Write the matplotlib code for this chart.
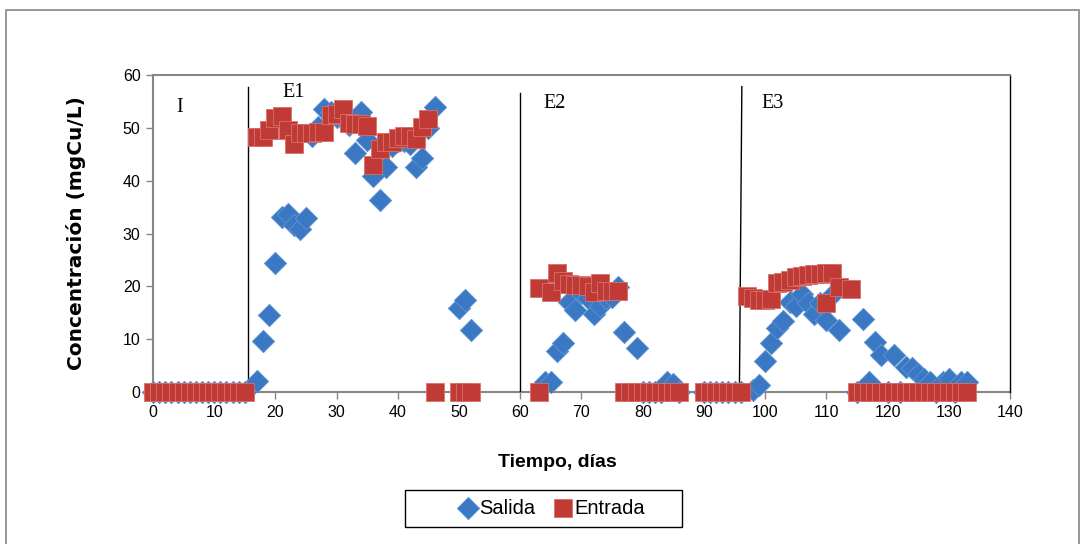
import matplotlib
matplotlib.use("Agg")
import matplotlib.pyplot as plt
from matplotlib.patches import Rectangle

plt.rcParams['font.family'] = ['Liberation Sans', 'DejaVu Sans']

# Salida (effluent) concentration, mgCu/L
salida_dias = list(range(0, 16)) + [
    17, 18, 19, 20, 21, 22, 23, 24, 25, 26, 27, 28, 29, 30, 31, 32, 33, 34,
    35, 36, 37, 38, 39, 40, 41, 42, 43, 44, 45, 46, 50, 51, 52,
    64, 65, 66, 67, 68, 69, 70, 71, 72, 73, 74, 75, 76, 77, 79, 80, 81, 82,
    83, 84, 85, 86, 90, 91, 92, 93, 94, 95, 96,
    98, 99, 100, 101, 102, 103, 104, 105, 106, 107, 108, 109, 110, 111, 112,
    115, 116, 117, 118, 119, 120, 121, 122, 123, 124, 125, 126, 127, 128, 129,
    130, 131, 132, 133]
salida = [0] * 16 + [
    2.1, 9.7, 14.6, 24.4, 33.1, 33.7, 31.6, 30.9, 32.9, 48.5, 50.2, 53.6, 53.0,
    52.0, 52.5, 50.5, 45.2, 53.0, 47.7, 40.8, 36.4, 42.5, 46.5, 47.5, 47.5, 47.0,
    42.5, 44.2, 50.0, 54.0, 15.9, 17.4, 11.8,
    1.9, 1.9, 7.8, 9.2, 17.0, 15.5, 18.7, 17.7, 14.8, 16.2, 17.7, 18.0, 19.8,
    11.4, 8.3, 0, 0, 0, 0, 1.9, 1.5, 0, 0, 0, 0, 0, 0, 0, 0,
    0.4, 1.3, 5.9, 9.3, 12.1, 13.5, 17.1, 16.3, 18.5, 16.8, 14.7, 16.8, 13.6,
    18.4, 11.8, 0, 13.8, 1.9, 9.4, 7.0, 0, 7.0, 0, 4.8, 4.6, 3.5, 2.4, 1.9, 0,
    1.8, 2.5, 0, 1.9, 1.9]

# Entrada (influent) concentration, mgCu/L
entrada_dias = list(range(0, 16)) + [
    17, 18, 19, 20, 21, 22, 23, 24, 25, 26, 27, 28, 29, 30, 31, 32, 33, 34,
    35, 36, 37, 38, 39, 40, 41, 42, 43, 44, 45, 46, 50, 51, 52,
    63, 63, 65, 66, 67, 68, 69, 70, 71, 72, 73, 74, 75, 76] + \
    list(range(77, 87)) + list(range(90, 97)) + [
    97, 98, 99, 100, 101, 102, 103, 104, 105, 106, 107, 108, 109, 110, 110,
    111, 112, 114] + list(range(115, 134))
entrada = [0] * 16 + [
    48.3, 48.3, 49.6, 51.8, 52.3, 49.5, 47.0, 49.0, 49.0, 49.0, 49.2, 49.2,
    52.5, 52.6, 53.5, 50.9, 50.7, 50.7, 50.4, 43.0, 46.0, 47.4, 47.4, 48.0,
    48.4, 48.4, 47.8, 50.1, 51.6, 0, 0, 0, 0,
    0, 19.6, 19.0, 22.6, 21.1, 20.5, 20.3, 20.3, 20.0, 19.0, 20.6, 19.2, 19.2,
    19.2] + [0] * 10 + [0] * 7 + [
    18.2, 17.7, 17.5, 17.5, 17.6, 20.6, 20.8, 21.2, 21.7, 22.0, 22.1, 22.3,
    22.3, 22.5, 16.8, 22.6, 19.8, 19.5] + [0] * 19

# stage boundaries: (x bottom, x top, top value)
etapas_x = [(15.5, 15.5, 57.8), (60.0, 60.0, 56.6), (95.8, 96.2, 57.8)]
etapas_txt = ["I", "E1", "E2", "E3"]
etapas_pos = [(4.4, 53.8), (23.0, 56.6), (65.6, 54.7), (101.2, 54.6)]

fig = plt.figure(figsize=(10.87, 5.44), dpi=100)
ax = fig.add_axes([0.1408, 0.2794, 0.7883, 0.5827])

ax.scatter(salida_dias, salida, marker='D', s=130, color='#3b78c3',
           edgecolors='#5e95d4', linewidths=0.6, label='Salida', zorder=3,
           clip_on=False)
ax.scatter(entrada_dias, entrada, marker='s', s=170, color='#c03a36',
           edgecolors='#d9706b', linewidths=0.6, label='Entrada', zorder=4,
           clip_on=False)

for x0, x1, ytop in etapas_x:
    ax.plot([x0, x1], [0, ytop], color='black', lw=1.0, zorder=2)
for t, (x, y) in zip(etapas_txt, etapas_pos):
    ax.text(x, y, t, family='Liberation Serif', fontsize=14.5, ha='center',
            va='center', color='black')

ax.set_xlim(0, 140)
ax.set_ylim(0, 60)
ax.set_xticks(range(0, 141, 10))
ax.set_yticks(range(0, 61, 10))
ax.tick_params(direction='out', length=5, width=1, color='#868686',
               labelsize=11.5, pad=4)
for side in ['left', 'bottom', 'top']:
    ax.spines[side].set_color('#868686')
    ax.spines[side].set_linewidth(1.5)
ax.spines['right'].set_color('black')
ax.spines['right'].set_linewidth(1.0)
ax.spines['bottom'].set_zorder(1)

ax.set_xlabel('Tiempo, días', fontsize=14, fontweight='bold')
ax.xaxis.set_label_coords(0.472, -0.195)
ax.set_ylabel('Concentración (mgCu/L)', family='DejaVu Sans', fontsize=14.5,
              fontweight='bold')
ax.yaxis.set_label_coords(-0.078, 0.5)

leg = ax.legend(loc='center', bbox_to_anchor=(552 / 1087, 1 - 508 / 544),
                bbox_transform=fig.transFigure, ncol=2, fontsize=14.5,
                frameon=False, handletextpad=0.1, columnspacing=0.9,
                handlelength=0.9, borderaxespad=0)

# legend box
fig.patches.append(Rectangle((405 / 1087, 1 - 527 / 544), 277 / 1087,
                             37 / 544, transform=fig.transFigure, fill=False,
                             edgecolor='black', lw=1.0))

# chart area border
fig.patches.append(Rectangle((6 / 1087, -0.05), 1073 / 1087, 1.04 - 5 / 544,
                             transform=fig.transFigure, fill=False,
                             edgecolor='#868686', lw=1.2))

fig.savefig('out.png', dpi=100)
